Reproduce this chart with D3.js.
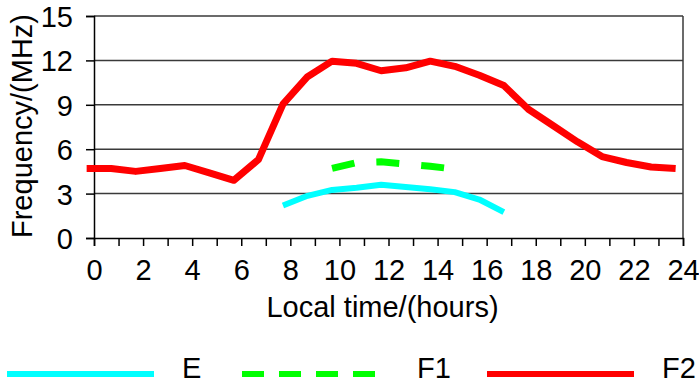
<!DOCTYPE html>
<html>
<head>
<meta charset="utf-8">
<script src="https://cdn.jsdelivr.net/npm/d3@7"></script>
<style>
  body { margin: 0; background: #fff; }
  svg { display: block; font-family: "Liberation Sans", Arial, sans-serif; }
</style>
</head>
<body>
<div id="chart"></div>
<script>
// hours and frequencies
const hours = [0,1,2,3,4,5,6,7,8,9,10,11,12,13,14,15,16,17,18,19,20,21,22,23,24];
const f2 = [4.7,4.7,4.5,4.7,4.9,4.4,3.9,5.3,9.05,10.9,11.95,11.8,11.3,11.5,11.95,11.6,11.0,10.3,8.7,7.6,6.5,5.5,5.1,4.8,4.7];
const eHours = [8,9,10,11,12,13,14,15,16,17];
const eLayer = [2.2,2.85,3.25,3.4,3.6,3.45,3.3,3.1,2.6,1.75];
const f1Hours = [10,11,12,13,14,15];
const f1 = [4.7,5.1,5.15,5.0,4.85,4.65];
const yTicks = [0,3,6,9,12,15];
const xLabels = [0,2,4,6,8,10,12,14,16,18,20,22,24];
const seriesNames = ["E","F1","F2"];
const seriesColors = ["#00ffff","#00ff00","#ff0000"];

const W = 699, H = 383;
const margin = {left: 94, right: 16, top: 16, bottom: 145};

const svg = d3.select("#chart").append("svg")
    .attr("width", W)
    .attr("height", H);

const x = d3.scaleLinear().domain([0, 24]).range([margin.left, W - margin.right]);
const y = d3.scaleLinear().domain([0, 15]).range([H - margin.bottom, margin.top]);

// the lines sit a bit left of the hour ticks in the source chart
const shift = -0.3;

// gridlines + frame
svg.append("g")
    .selectAll("line")
    .data(yTicks.filter(d => d > 0))
    .enter().append("line")
        .attr("x1", x(0)).attr("x2", x(24))
        .attr("y1", d => y(d)).attr("y2", d => y(d))
        .attr("stroke", "#3a3a3a")
        .attr("stroke-width", 1.5);
svg.append("line")
    .attr("x1", x(24)).attr("x2", x(24))
    .attr("y1", y(15)).attr("y2", y(0))
    .attr("stroke", "#3a3a3a")
    .attr("stroke-width", 1.5);

// axes
let yAxis = d3.axisLeft(y).tickValues(yTicks).tickSize(8).tickPadding(13);
let gy = svg.append("g")
    .attr("transform", `translate(${x(0)},0)`)
    .call(yAxis);
let xAxis = d3.axisBottom(x).ticks(24).tickSize(8).tickFormat(d => xLabels.includes(d) ? d : "").tickPadding(13);
let gx = svg.append("g")
    .attr("transform", `translate(0,${y(0)})`)
    .call(xAxis);
[gx, gy].forEach(g => {
    g.select(".domain").attr("stroke", "#000").attr("stroke-width", 1.5);
    g.selectAll(".tick line").attr("stroke", "#000").attr("stroke-width", 1.5);
    g.selectAll(".tick text")
        .attr("fill", "#000")
        .style("font-size", "29px")
        .style("font-family", "Liberation Sans, Arial, sans-serif");
});
gy.selectAll(".tick text").attr("dy", "0.36em");

// axis titles
svg.append("text")
    .attr("x", (x(0) + x(24)) / 2 - 6)
    .attr("y", 317)
    .attr("text-anchor", "middle")
    .style("font-size", "29px")
    .text("Local time/(hours)");
svg.append("text")
    .attr("transform", `translate(32,${(y(0) + y(15)) / 2 - 1}) rotate(-90)`)
    .attr("text-anchor", "middle")
    .style("font-size", "29px")
    .text("Frequency/(MHz)");

// series
const line = d3.line().x(d => x(d[0] + shift)).y(d => y(d[1]));

svg.append("path")
    .datum(d3.zip(eHours, eLayer))
    .attr("d", line)
    .attr("fill", "none")
    .attr("stroke", seriesColors[0])
    .attr("stroke-width", 6)
    .attr("stroke-linejoin", "round");

svg.append("path")
    .datum(d3.zip(f1Hours, f1))
    .attr("d", line)
    .attr("fill", "none")
    .attr("stroke", seriesColors[1])
    .attr("stroke-width", 7)
    .attr("stroke-dasharray", "23,22");

svg.append("path")
    .datum(d3.zip(hours, f2))
    .attr("d", line)
    .attr("fill", "none")
    .attr("stroke", seriesColors[2])
    .attr("stroke-width", 7)
    .attr("stroke-linejoin", "round");

// legend
const legendX = [7, 242, 487];
const legend = svg.append("g");
seriesNames.forEach((name, i) => {
    legend.append("line")
        .attr("x1", legendX[i]).attr("x2", legendX[i] + 147)
        .attr("y1", 374).attr("y2", 374)
        .attr("stroke", seriesColors[i])
        .attr("stroke-width", 6)
        .attr("stroke-dasharray", i == 1 ? "22,15" : null);
    legend.append("text")
        .attr("x", legendX[i] + 175)
        .attr("y", 378)
        .style("font-size", "29px")
        .text(name);
});
</script>
</body>
</html>
